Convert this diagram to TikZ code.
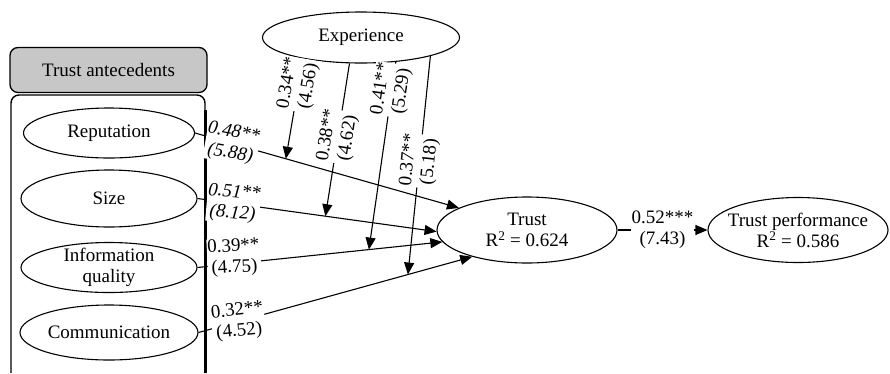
\documentclass[tikz,border=0pt]{standalone}
\usepackage{fontspec}
\setmainfont{Liberation Serif}
\usepackage{tikz}
\usetikzlibrary{arrows.meta,shapes}
\usetikzlibrary{positioning}
\tikzstyle{factor} = [draw, ellipse, line width=1.1pt, inner sep=0pt, align=center]
\tikzstyle{coef} = [fill=white, inner sep=0.5pt, align=center]
\tikzstyle{link} = [-{Triangle[length=12pt,width=10pt]}, line width=1.1pt]

\begin{document}
\begin{tikzpicture}[x=1pt, y=-1pt, font=\fontsize{19}{21}\selectfont, node distance=65pt]
  \useasboundingbox (0,0) rectangle (890,373);
  \node [draw, fill=black!22, rounded corners=8pt, line width=1.3pt, minimum width=197pt, minimum height=45pt] (head) at (108.5,70) {Trust antecedents};
  \draw [line width=1.4pt, rounded corners=8pt] (11,373) -- (11,95) -- (205,95) -- (205,373);
  \draw [line width=3pt] (205,110) -- (205,373);
  \node [factor, minimum width=171pt, minimum height=50pt] (rep) at (109,133) {Reputation};
  \node [factor, below of=rep, node distance=65.5pt, minimum width=176pt, minimum height=57pt] (size) {Size};
  \node [factor, below of=size, node distance=69pt, minimum width=176pt, minimum height=50pt, inner ysep=-2pt] (info) {Information\\quality};
  \node [factor, below of=info, node distance=65pt, minimum width=178pt, minimum height=55pt] (comm) {Communication};
  \node [factor, minimum width=197pt, minimum height=51pt] (exp) at (361,37.5) {Experience};
  \node [factor, minimum width=180pt, minimum height=66pt] (trust) at (527,230) {Trust\\R\textsuperscript{2} = 0.624};
  \node [factor, right of=trust, node distance=271pt, minimum width=180pt, minimum height=65pt, inner xsep=-7pt] (perf) {Trust performance\\R\textsuperscript{2} = 0.586};
  \draw [link] (rep.east) -- coordinate[pos=0.344] (t1) (trust.162)
    node [coef, pos=0.14, rotate=-10] {\textit{0.48**}\\\textit{(5.88)}};
  \draw [link] (size.east) -- coordinate[pos=0.535] (t2) (trust.181)
    node [coef, pos=0.15, rotate=-5] {\textit{0.51**}\\\textit{(8.12)}};
  \draw [link] (info.east) -- coordinate[pos=0.70] (t3) (trust.188)
    node [coef, pos=0.15, rotate=3, yshift=6pt] {0.39**\\(4.75)};
  \draw [link] (comm.east) -- coordinate[pos=0.765] (t4) (trust.206)
    node [coef, pos=0.145, rotate=6] {0.32**\\(4.52)};
  \draw [link] (exp.200) -- node [coef, sloped, pos=0.26] {0.34**\\(4.56)} (t1);
  \draw [link] (exp.246) -- node [coef, sloped, pos=0.48] {0.38**\\(4.62)} (t2);
  \draw [link] (exp.325) -- node [coef, sloped, pos=0.15] {0.41**\\(5.29)} (t3);
  \draw [link] (exp.345) -- node [coef, sloped, pos=0.48] {0.37**\\(5.18)} (t4);
  \draw [link] (trust) -- node [coef] {0.52***\\(7.43)} (perf);
\end{tikzpicture}
\end{document}
